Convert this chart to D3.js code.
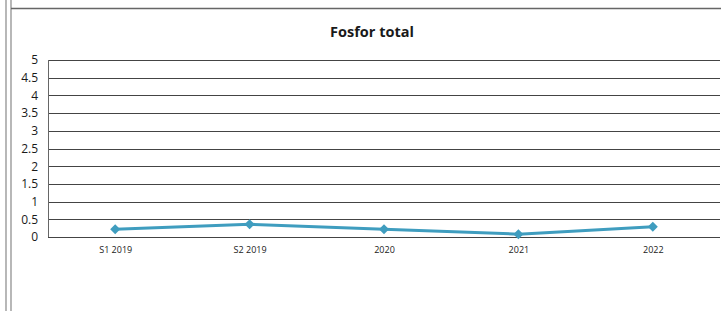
<!DOCTYPE html>
<html>
<head>
<meta charset="utf-8">
<script src="https://cdn.jsdelivr.net/npm/d3@7"></script>
<style>
  body { margin: 0; background: #fff; }
  svg { display: block; font-family: "Open Sans", "Liberation Sans", sans-serif; }
</style>
</head>
<body>
<script>
// data
const categories = ["S1 2019", "S2 2019", "2020", "2021", "2022"];
const values = [0.22, 0.36, 0.22, 0.08, 0.29];
const yTicks = [0, 0.5, 1, 1.5, 2, 2.5, 3, 3.5, 4, 4.5, 5];
const title = "Fosfor total";

const W = 721, H = 311;
const M = { top: 60, right: 1, bottom: 74, left: 48 };

const svg = d3.select("body").append("svg").attr("width", W).attr("height", H);

// frame from the scanned page
svg.append("line").attr("x1", 6).attr("x2", 6).attr("y1", 0).attr("y2", H)
  .attr("stroke", "#888").attr("stroke-width", 1.2);
svg.append("line").attr("x1", 11).attr("x2", 11).attr("y1", 0).attr("y2", H)
  .attr("stroke", "#888").attr("stroke-width", 1.2);
svg.append("line").attr("x1", 11).attr("x2", W).attr("y1", 8.5).attr("y2", 8.5)
  .attr("stroke", "#666").attr("stroke-width", 1.5);

const x = d3.scalePoint().domain(categories).range([M.left, W - M.right]).padding(0.5);
const y = d3.scaleLinear().domain([0, 5]).range([H - M.bottom, M.top]);

// gridlines
svg.append("g")
  .selectAll("line")
  .data(yTicks)
  .join("line")
  .attr("x1", M.left).attr("x2", W - M.right)
  .attr("y1", d => Math.round(y(d)) + 0.5).attr("y2", d => Math.round(y(d)) + 0.5)
  .attr("stroke", "#444").attr("stroke-width", 1.2);

svg.append("line")
  .attr("x1", M.left + 0.5).attr("x2", M.left + 0.5)
  .attr("y1", y(5)).attr("y2", y(0))
  .attr("stroke", "#666");

// y axis labels
const yAxis = d3.axisLeft(y).tickValues(yTicks).tickSize(0).tickPadding(10)
  .tickFormat(d3.format("~g"));
svg.append("g")
  .attr("transform", `translate(${M.left},0)`)
  .call(yAxis)
  .call(g => g.select(".domain").remove())
  .call(g => g.selectAll("text").attr("font-size", 12).attr("fill", "#1a1a1a")
    .attr("font-family", "Open Sans, sans-serif"));

// x axis labels
const xAxis = d3.axisBottom(x).tickSize(0).tickPadding(10);
svg.append("g")
  .attr("transform", `translate(0,${y(0)})`)
  .call(xAxis)
  .call(g => g.select(".domain").remove())
  .call(g => g.selectAll("text").attr("font-size", 9).attr("fill", "#1a1a1a")
    .attr("font-family", "Open Sans, sans-serif"));

// title
svg.append("text")
  .attr("x", 372).attr("y", 37)
  .attr("text-anchor", "middle")
  .attr("font-size", 14.5).attr("font-weight", "bold").attr("fill", "#1a1a1a")
  .text(title);

// series
const line = d3.line().x((d, i) => x(categories[i])).y(d => y(d));
svg.append("path")
  .datum(values)
  .attr("fill", "none")
  .attr("stroke", "#3f9dbf")
  .attr("stroke-width", 3)
  .attr("d", line);

svg.append("g")
  .selectAll("path")
  .data(values)
  .join("path")
  .attr("d", d3.symbol(d3.symbolDiamond2, 64))
  .attr("transform", (d, i) => `translate(${x(categories[i])},${y(d)})`)
  .attr("fill", "#3f9dbf");
</script>
</body>
</html>
